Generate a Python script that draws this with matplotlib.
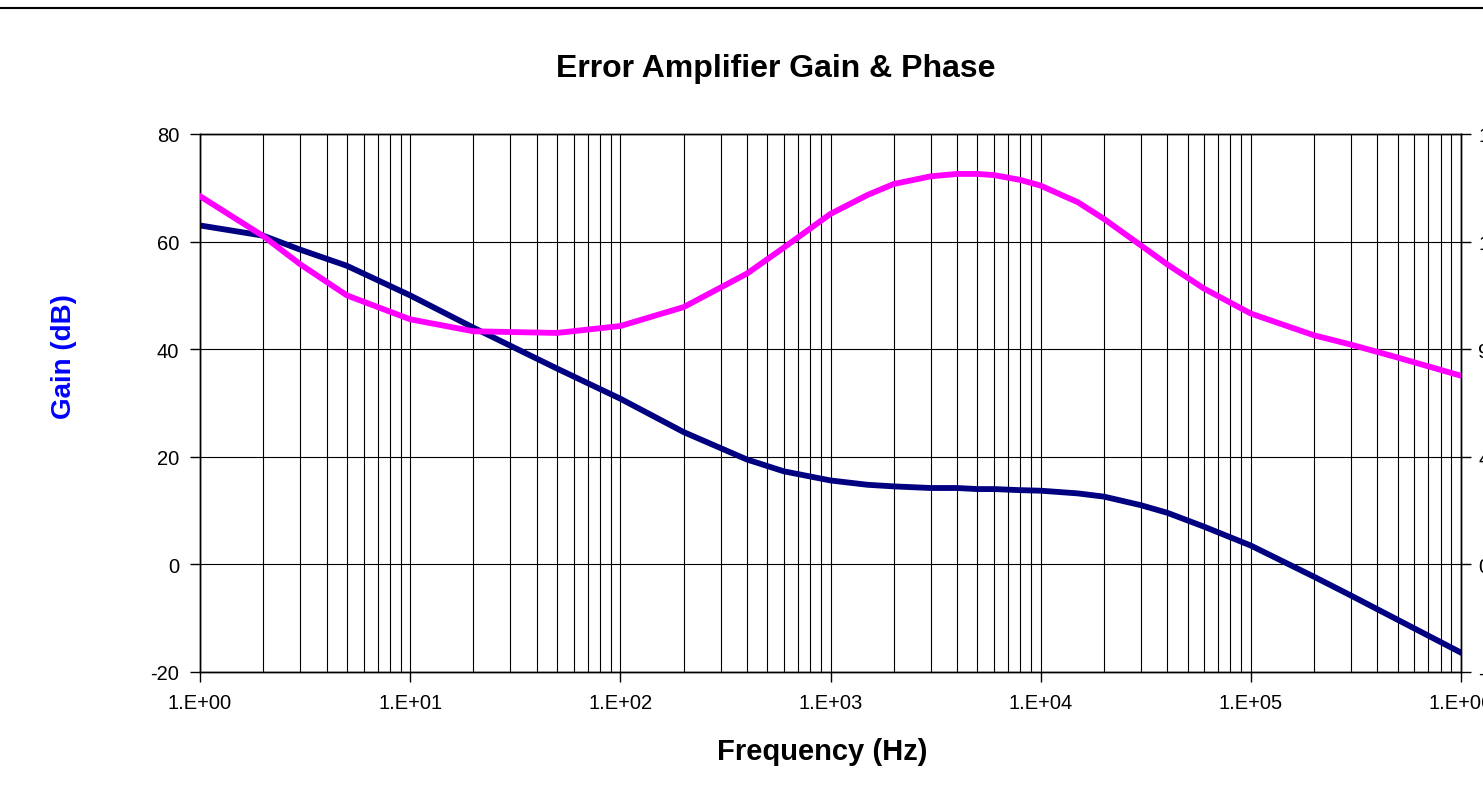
import matplotlib
matplotlib.use("Agg")
import matplotlib.pyplot as plt
from matplotlib.ticker import LogLocator, NullFormatter
from matplotlib.lines import Line2D


# ── Data ──────────────────────────────────────────────────────────────────────

freq_hz = [1, 2, 3, 5, 10, 20, 50, 100, 200, 400, 600, 1000, 1500, 2000,
           3000, 4000, 5000, 6000, 8000, 10000, 15000, 20000, 30000, 40000,
           60000, 100000, 200000, 300000, 500000, 1000000]

gain_db = [63.0, 61.1, 58.5, 55.5, 50.0, 44.0, 36.4, 30.8, 24.6, 19.5,
           17.3, 15.6, 14.8, 14.5, 14.2, 14.2, 14.0, 14.0, 13.8, 13.7,
           13.2, 12.6, 11.0, 9.6, 7.0, 3.5, -2.3, -5.8, -10.3, -16.4]

phase_deg = [154.0, 137.3, 125.5, 112.5, 102.5, 97.5, 96.8, 99.7, 107.6,
             121.6, 132.5, 146.6, 154.5, 159.1, 162.3, 163.3, 163.3, 162.8,
             160.8, 158.4, 151.5, 144.5, 133.4, 125.5, 115.3, 104.9, 95.8,
             91.9, 86.5, 78.9]

x_ticks       = [1e0, 1e1, 1e2, 1e3, 1e4, 1e5, 1e6]
x_tick_labels = ["1.E+00", "1.E+01", "1.E+02", "1.E+03", "1.E+04", "1.E+05", "1.E+06"]
gain_ticks    = [-20, 0, 20, 40, 60, 80]
phase_ticks   = [-45, 0, 45, 90, 135, 180]

TITLE  = "Error Amplifier Gain & Phase"
XLABEL = "Frequency (Hz)"
YLABEL = "Gain (dB)"

# ── Style ─────────────────────────────────────────────────────────────────────

W, H        = 1483, 803
GAIN_COLOR  = "#000080"
PHASE_COLOR = "#FF00FF"
LINE_W      = 4.2
TICK_FS     = 14.5

plt.rcParams["font.family"] = ["Liberation Sans", "DejaVu Sans"]

fig = plt.figure(figsize=(W / 100, H / 100), dpi=100)
fig.patch.set_facecolor("white")

left, right, top, bottom = 200, 1461, 135, 673
ax = fig.add_axes([left / W, 1 - bottom / H, (right - left) / W, (bottom - top) / H])

ax.set_xscale("log")
ax.set_xlim(x_ticks[0], x_ticks[-1])
ax.set_ylim(gain_ticks[0], gain_ticks[-1])
ax.set_axisbelow(True)

ax.set_xticks(x_ticks)
ax.set_xticklabels(x_tick_labels, fontsize=TICK_FS)
ax.xaxis.set_minor_locator(LogLocator(base=10, subs=range(2, 10), numticks=20))
ax.xaxis.set_minor_formatter(NullFormatter())
ax.set_yticks(gain_ticks)
ax.set_yticklabels([str(v) for v in gain_ticks], fontsize=TICK_FS)

ax.tick_params(axis="both", which="major", direction="out", length=7,
               width=1, color="black", pad=8)
ax.tick_params(axis="x", which="minor", length=0)

ax.grid(True, which="both", axis="x", color="black", linewidth=0.8)
ax.grid(True, which="major", axis="y", color="black", linewidth=0.8)
for sp in ax.spines.values():
    sp.set_color("black")
    sp.set_linewidth(1.0)

ax.plot(freq_hz, gain_db, color=GAIN_COLOR, linewidth=LINE_W,
        solid_joinstyle="round", zorder=3)

# secondary axis for phase (its labels run off the right edge, as in the source)
ax2 = ax.twinx()
ax2.set_ylim(phase_ticks[0], phase_ticks[-1])
ax2.set_yticks(phase_ticks)
ax2.set_yticklabels([str(v) for v in phase_ticks], fontsize=TICK_FS)
ax2.tick_params(axis="y", direction="out", length=7, width=1, pad=5.5)
ax2.plot(freq_hz, phase_deg, color=PHASE_COLOR, linewidth=LINE_W,
         solid_joinstyle="round", zorder=3)
for sp in ax2.spines.values():
    sp.set_linewidth(1.0)

# titles
fig.text(776 / W, 1 - 69 / H, TITLE, ha="center", va="center",
         fontsize=23, fontweight="bold")
fig.text(822 / W, 1 - 752 / H, XLABEL, ha="center", va="center",
         fontsize=21, fontweight="bold")
fig.text(64 / W, 1 - 357 / H, YLABEL, ha="center", va="center",
         rotation=90, fontsize=20, fontweight="bold", color="#0000FF")

# border line along the top
fig.add_artist(Line2D([0, 1], [1 - 9 / H, 1 - 9 / H], transform=fig.transFigure,
                      color="black", linewidth=1.5))

fig.savefig("out.png", dpi=100)
